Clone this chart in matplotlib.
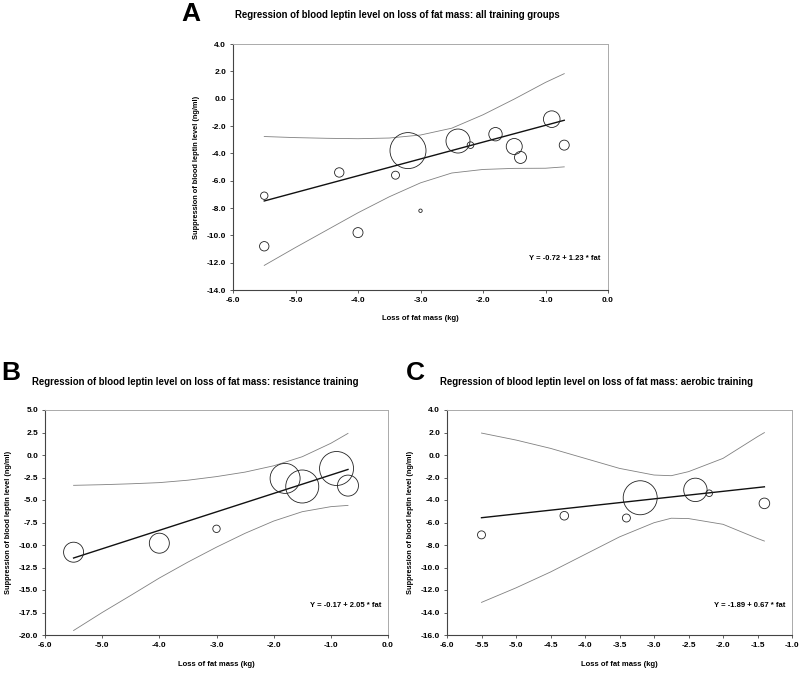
import numpy as np
import matplotlib.pyplot as plt
from matplotlib.ticker import FormatStrFormatter

plt.rcParams['font.family'] = ['Liberation Sans', 'DejaVu Sans']

# Panel A: all training groups
a_fat = [-5.5, -5.5, -4.3, -4.0, -3.4, -3.2, -3.0, -2.4, -2.2, -1.8, -1.5, -1.4, -0.9, -0.7]
a_leptin = [-7.1, -10.8, -5.4, -9.8, -5.6, -3.8, -8.2, -3.1, -3.4, -2.6, -3.5, -4.3, -1.5, -3.4]
a_weight = [3.7, 4.7, 4.7, 5.0, 4.0, 18.0, 1.7, 12.0, 3.3, 6.7, 8.0, 6.0, 8.3, 5.0]
a_coef = (-0.72, 1.23)
a_band_x = [-5.5, -5.0, -4.5, -4.0, -3.5, -3.0, -2.5, -2.0, -1.5, -1.0, -0.7]
a_upper = [-2.77, -2.85, -2.90, -2.93, -2.88, -2.66, -2.16, -1.18, -0.03, 1.19, 1.83]
a_lower = [-12.2, -10.89, -9.62, -8.35, -7.18, -6.16, -5.44, -5.18, -5.10, -5.09, -4.99]

# Panel B: resistance training
b_fat = [-5.5, -4.0, -3.0, -1.8, -1.5, -0.9, -0.7]
b_leptin = [-10.8, -9.8, -8.2, -2.6, -3.5, -1.5, -3.4]
b_weight = [10.0, 10.0, 3.7, 15.0, 16.5, 17.0, 10.5]
b_coef = (-0.17, 2.05)
b_band_x = [-5.5, -5.0, -4.5, -4.0, -3.5, -3.0, -2.5, -2.0, -1.5, -1.0, -0.7]
b_upper = [-3.37, -3.30, -3.20, -3.07, -2.80, -2.40, -1.90, -1.20, -0.19, 1.30, 2.40]
b_lower = [-19.5, -17.5, -15.6, -13.67, -11.9, -10.24, -8.7, -7.34, -6.30, -5.74, -5.60]

# Panel C: aerobic training
c_fat = [-5.5, -4.3, -3.4, -3.2, -2.4, -2.2, -1.4]
c_leptin = [-7.1, -5.4, -5.6, -3.8, -3.1, -3.4, -4.3]
c_weight = [4.0, 4.3, 4.0, 17.0, 11.7, 3.3, 5.3]
c_coef = (-1.89, 0.67)
c_band_x = [-5.5, -5.0, -4.5, -4.0, -3.5, -3.0, -2.75, -2.5, -2.0, -1.5, -1.4]
c_upper = [1.95, 1.33, 0.59, -0.30, -1.19, -1.78, -1.84, -1.48, -0.30, 1.63, 1.99]
c_lower = [-13.1, -11.81, -10.4, -8.84, -7.28, -6.02, -5.62, -5.65, -6.16, -7.42, -7.65]

fig = plt.figure(figsize=(8, 6.77), dpi=100)


def panel(rect, fat, leptin, weight, coef, bx, up, lo, xlim, ylim, xstep, ystep,
          letter, title, letter_pos, title_pos, xlabel_y):
    ax = fig.add_axes(rect)
    s = (2 * np.array(weight) * 0.72) ** 2
    ax.scatter(fat, leptin, s=s, facecolors='none', edgecolors='#222222', linewidths=0.6, zorder=3)
    xs = np.array([min(fat), max(fat)])
    ax.plot(xs, coef[0] + coef[1] * xs, color='#111111', lw=1.0)
    ax.plot(bx, up, color='#808080', lw=0.6)
    ax.plot(bx, lo, color='#808080', lw=0.6)
    ax.set_xlim(*xlim)
    ax.set_ylim(*ylim)
    ax.set_xticks(np.arange(xlim[0], xlim[1] + 0.001, xstep))
    ax.set_yticks(np.arange(ylim[0], ylim[1] + 0.001, ystep))
    ax.xaxis.set_major_formatter(FormatStrFormatter('%.1f'))
    ax.yaxis.set_major_formatter(FormatStrFormatter('%.1f'))
    ax.tick_params(direction='out', length=2.5, width=0.6, labelsize=6, pad=2.5,
                   top=False, right=False, color='#444444')
    for lab in ax.get_xticklabels() + ax.get_yticklabels():
        lab.set_fontweight('bold')
    for side in ['top', 'right']:
        ax.spines[side].set_color('#aaaaaa')
        ax.spines[side].set_linewidth(0.7)
    for side in ['left', 'bottom']:
        ax.spines[side].set_color('#444444')
        ax.spines[side].set_linewidth(0.8)
    ax.set_ylabel('Suppression of blood leptin level (ng/ml)', fontsize=5.3,
                  fontweight='bold', labelpad=5)
    sign = '+' if coef[1] >= 0 else '-'
    ax.text(0.98, 0.13, 'Y = %.2f %s %.2f * fat' % (coef[0], sign, abs(coef[1])),
            transform=ax.transAxes, ha='right', va='center', fontsize=5.5, fontweight='bold')
    fig.text(letter_pos[0] / 800, 1 - letter_pos[1] / 677, letter, fontsize=19,
             fontweight='bold', ha='left', va='center')
    fig.text(title_pos[0] / 800, 1 - title_pos[1] / 677, title, fontsize=6.9,
             fontweight='bold', ha='center', va='center')
    fig.text((rect[0] + rect[2] / 2), 1 - xlabel_y / 677, 'Loss of fat mass (kg)',
             fontsize=5.5, fontweight='bold', ha='center', va='center')
    return ax


panel([233 / 800, 1 - 290 / 677, 375 / 800, 246 / 677], a_fat, a_leptin, a_weight, a_coef,
      a_band_x, a_upper, a_lower, (-6.0, 0.0), (-14.0, 4.0), 1.0, 2.0,
      'A', 'Regression of blood leptin level on loss of fat mass: all training groups',
      (181, 14), (397, 15), 318)

panel([45 / 800, 1 - 635 / 677, 343 / 800, 225 / 677], b_fat, b_leptin, b_weight, b_coef,
      b_band_x, b_upper, b_lower, (-6.0, 0.0), (-20.0, 5.0), 1.0, 2.5,
      'B', 'Regression of blood leptin level on loss of fat mass: resistance training',
      (1, 373), (195, 382), 665)

panel([447 / 800, 1 - 635 / 677, 345 / 800, 225 / 677], c_fat, c_leptin, c_weight, c_coef,
      c_band_x, c_upper, c_lower, (-6.0, -1.0), (-16.0, 4.0), 0.5, 2.0,
      'C', 'Regression of blood leptin level on loss of fat mass: aerobic training',
      (406, 373), (597, 382), 665)

fig.savefig('out.png', dpi=100)
